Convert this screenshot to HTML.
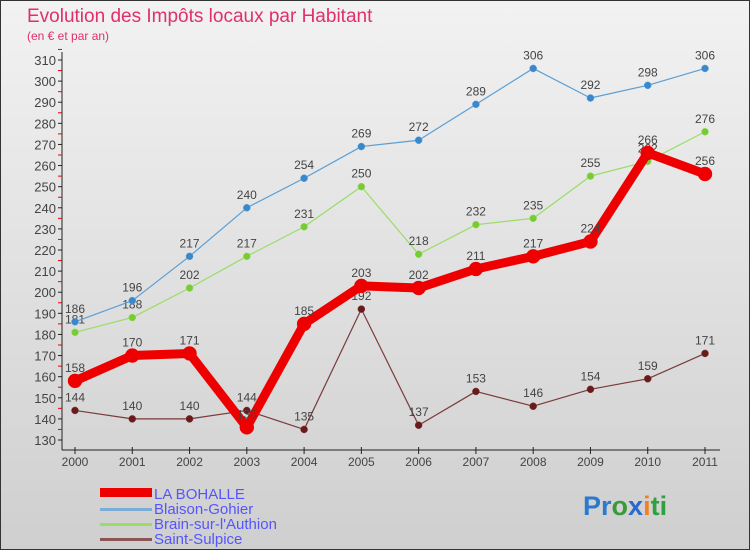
<!DOCTYPE html>
<html><head><meta charset="utf-8"><style>
body{margin:0}
#c{width:750px;height:550px;position:relative;background:linear-gradient(#f2f2f2,#cfcfcf);font-family:"Liberation Sans",sans-serif;box-sizing:border-box;border:1px solid #333;overflow:hidden}
</style></head><body>
<div id="c">
<svg id="s" width="750" height="550" style="position:absolute;left:-1px;top:-1px" font-family="Liberation Sans, sans-serif">
<text x="27" y="22" font-size="19" fill="#e0306a">Evolution des Impôts locaux par Habitant</text>
<text x="27" y="40" font-size="12" fill="#e0306a">(en € et par an)</text>
<g id="axes"></g><g id="series"></g>
<g>
<rect x="100" y="488" width="52" height="9" fill="#ee0000"/>
<rect x="100" y="508" width="52" height="3" fill="#7aaed6"/>
<rect x="100" y="523" width="52" height="3" fill="#99dd66"/>
<rect x="100" y="538" width="52" height="3" fill="#8b5555"/>
<g font-size="15" fill="#5555ff">
<text x="154" y="499">LA BOHALLE</text>
<text x="154" y="514">Blaison-Gohier</text>
<text x="154" y="529">Brain-sur-l'Authion</text>
<text x="154" y="544">Saint-Sulpice</text>
</g></g>
<text x="583" y="515" font-size="27" font-weight="bold"><tspan fill="#2a7ad0">Pr</tspan><tspan fill="#3a9a3a">o</tspan><tspan fill="#2a6ad0">x</tspan><tspan fill="#f08020">i</tspan><tspan fill="#30a040">ti</tspan></text>
</svg></div>
<script>
const years=["2000","2001","2002","2003","2004","2005","2006","2007","2008","2009","2010","2011"];
const bohalle=[158,170,171,136,185,203,202,211,217,224,266,256];
const blaison=[186,196,217,240,254,269,272,289,306,292,298,306];
const brain=[181,188,202,217,231,250,218,232,235,255,262,276];
const sulpice=[144,140,140,144,135,192,137,153,146,154,159,171];
const yTicks=[130,140,150,160,170,180,190,200,210,220,230,240,250,260,270,280,290,300,310];
const NS="http://www.w3.org/2000/svg";
const X=i=>75+i*(630/11), Y=v=>440-(v-130)*380/180;
function mk(t,a,p){const e=document.createElementNS(NS,t);for(const k in a)e.setAttribute(k,a[k]);p.appendChild(e);return e;}
const ax=document.getElementById('axes');
let l=mk('line',{x1:62,y1:52,x2:62,y2:450,stroke:'#222'},ax);

l=mk('line',{x1:62,y1:450,x2:720,y2:450,stroke:'#222'},ax);

yTicks.forEach(v=>{mk('line',{x1:58,x2:62,y1:Y(v),y2:Y(v),stroke:'#222'},ax);
 mk('line',{x1:58,x2:62,y1:Y(v+5),y2:Y(v+5),stroke:'#e00'},ax);
 const t=mk('text',{x:56,y:Y(v)+5,'text-anchor':'end','font-size':13,fill:'#444'},ax);t.textContent=v;
 });
years.forEach((y,i)=>{mk('line',{x1:X(i),x2:X(i),y1:447,y2:454,stroke:'#222'},ax);
 const t=mk('text',{x:X(i),y:466,'text-anchor':'middle','font-size':12,fill:'#444'},ax);t.textContent=y;
 });
const sg=document.getElementById('series');
function draw(name,data,col,dot,w,r){
 const g=mk('g',{},sg);
 mk('polyline',{points:data.map((v,i)=>X(i)+','+Y(v)).join(' '),fill:'none',stroke:col,'stroke-width':w,'stroke-linejoin':'round'},g);
 data.forEach((v,i)=>{const c=mk('circle',{cx:X(i),cy:Y(v),r:r,fill:dot,stroke:col,'stroke-width':0.5},g);
  
  const t=mk('text',{x:X(i),y:Y(v)-9,'text-anchor':'middle','font-size':12,fill:'#444'},g);t.textContent=v;
  });
}
draw('series-saint-sulpice',sulpice,'#7a3a3a','#6a1a1a',1.2,3.5);
draw('series-brain',brain,'#99dd66','#77cc33',1.2,3.5);
draw('series-blaison',blaison,'#5a9fd6','#3a88cc',1.2,3.5);
draw('series-la-bohalle',bohalle,'#ee0000','#ee0000',9,7);
</script>
</body></html>
